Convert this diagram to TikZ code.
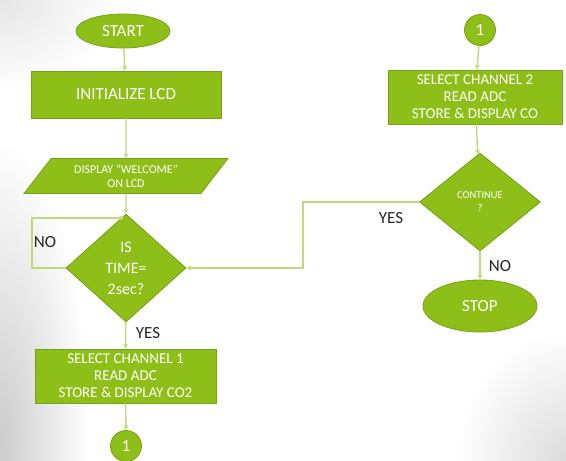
\documentclass[tikz,border=0pt]{standalone}
\usepackage{fontspec}
\setmainfont{Carlito}
\usetikzlibrary{shapes.geometric,arrows.meta}
\definecolor{boxgreen}{RGB}{142,190,24}
\definecolor{boxedge}{RGB}{118,160,24}
\definecolor{linegreen}{RGB}{190,218,120}
\definecolor{labelgray}{RGB}{35,35,35}
\tikzset{
  every node/.style={font=\fontsize{17}{20}\selectfont},
  proc/.style={draw=boxedge, line width=0.8pt, fill=boxgreen, text=white, align=center, inner sep=0pt},
  term/.style={proc, ellipse},
  boxnode/.style={proc, rectangle},
  decide/.style={proc, diamond},
  conn/.style={proc, circle, minimum size=31pt},
  iobox/.style={proc, trapezium, trapezium left angle=40, trapezium right angle=140, trapezium stretches body},
  flow/.style={draw=linegreen, line width=1.4pt, -{Stealth[length=5pt,width=5pt]}},
  lbl/.style={text=labelgray, font=\fontsize{17}{20}\selectfont}
}
\begin{document}
\begin{tikzpicture}[x=1pt,y=-1pt]
\useasboundingbox (0,0) rectangle (566,461);
\fill[white] (0,0) rectangle (566,461);
\begin{scope}
\clip (0,0) rectangle (566,461);
\shade[inner color=black!20, outer color=white] (0,440) ellipse [x radius=90pt, y radius=300pt];
\shade[inner color=black!10, outer color=white] (0,0) ellipse [x radius=120pt, y radius=90pt];
\shade[inner color=black!14, outer color=white] (566,461) ellipse [x radius=110pt, y radius=130pt];
\end{scope}

\node[term, minimum width=94pt, minimum height=34pt] (start) at (123,31) {START};
\node[boxnode, minimum width=190pt, minimum height=47pt] (init) at (126,94.5) {INITIALIZE LCD};
\node[iobox, minimum width=204pt, minimum height=35pt, font=\fontsize{12}{14}\selectfont] (disp) at (126,176) {DISPLAY “WELCOME”\\ON LCD};
\node[decide, minimum width=120pt, minimum height=108pt, font=\fontsize{16}{21}\selectfont] (q1) at (126,268) {IS\\TIME=\\2sec?};
\node[boxnode, minimum width=181pt, minimum height=54pt, font=\fontsize{15}{17}\selectfont] (ch1) at (125.5,376) {SELECT CHANNEL 1\\READ ADC\\STORE \& DISPLAY CO2};
\node[conn] (c1a) at (126,446) {1};

\node[conn] (c1b) at (480,30) {1};
\node[boxnode, minimum width=174pt, minimum height=54pt, font=\fontsize{15}{17}\selectfont] (ch2) at (475,97) {SELECT CHANNEL 2\\READ ADC\\STORE \& DISPLAY CO};
\node[decide, minimum width=121pt, minimum height=98pt, font=\fontsize{10.5}{13}\selectfont] (q2) at (480,202) {CONTINUE\\?};
\node[term, minimum width=114pt, minimum height=52pt] (stop) at (480,306) {STOP};

\coordinate (loopA) at (32,268);
\coordinate (loopB) at (32,218);
\coordinate (loopC) at (126,218);
\coordinate (yesA) at (303,202);
\coordinate (yesB) at (303,268);

\draw[flow] (start) -- (init);
\draw[flow] (init) -- (disp);
\draw[flow] (disp) -- (q1);
\draw[flow] (q1) -- (ch1);
\draw[flow] (ch1) -- (c1a);
\draw[flow] (c1b) -- (ch2);
\draw[flow] (ch2) -- (q2);
\draw[flow] (q2) -- (stop);
\draw[flow] (q1.west) -- (loopA) -- (loopB) -- ([xshift=-2pt]loopC);
\draw[flow] (q2.west) -- (yesA) -- (yesB) -- (q1.east);

\node[lbl] (no1) at (45,242) {NO};
\node[lbl] (yes1) at (148,333) {YES};
\node[lbl] (yes2) at (391,218) {YES};
\node[lbl] (no2) at (500,266) {NO};
\end{tikzpicture}
\end{document}
